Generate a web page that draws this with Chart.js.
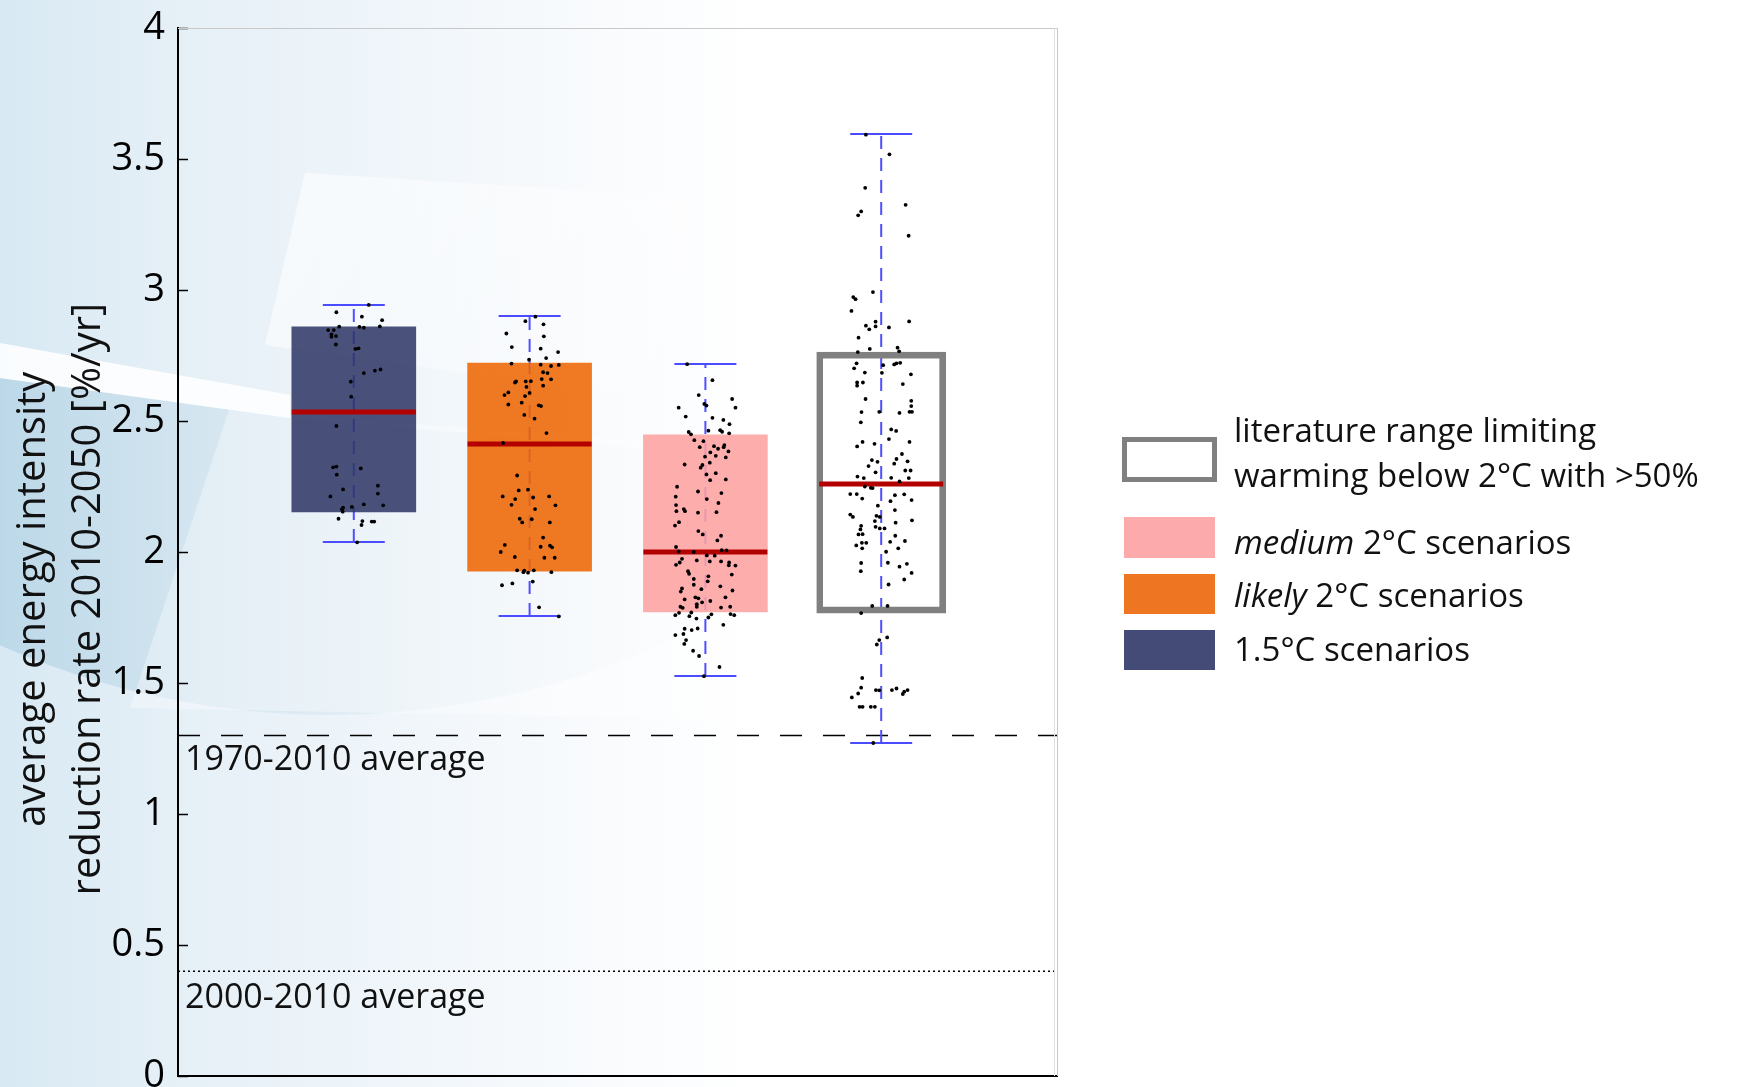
<!DOCTYPE html>
<html>
<head>
<meta charset="utf-8">
<script src="https://cdn.jsdelivr.net/npm/chart.js@4.4.1/dist/chart.umd.min.js"></script>
<style>
  body { margin: 0; background: #fff; }
  #wrap { position: relative; width: 1739px; height: 1087px; overflow: hidden; }
  canvas { position: absolute; left: 0; top: 0; }
  .sw { position: absolute; box-sizing: border-box; }
  .lt { position: absolute; left: 1234px; font: 33px "Open Sans", sans-serif; line-height: 40px; white-space: nowrap; color: #111; }
</style>
</head>
<body>
<div id="wrap">
  <canvas id="chart" width="1739" height="1087"></canvas>
  <div class="sw" style="left:1122px;top:437px;width:95px;height:45px;border:5px solid #808080;"></div>
  <div class="lt" style="top:410px;">literature range limiting</div>
  <div class="lt" style="top:455px;">warming below 2°C with &gt;50%</div>
  <div class="sw" style="left:1124px;top:517px;width:91px;height:41px;background:#fcaaab;"></div>
  <div class="lt" style="top:522px;"><i>medium</i> 2°C scenarios</div>
  <div class="sw" style="left:1124px;top:574px;width:91px;height:40px;background:#ee7521;"></div>
  <div class="lt" style="top:575px;"><i>likely</i> 2°C scenarios</div>
  <div class="sw" style="left:1124px;top:630px;width:91px;height:40px;background:#434b76;"></div>
  <div class="lt" style="top:629px;">1.5°C scenarios</div>
</div>
<script>
// categories (x positions 1..4)
const categories = ['1.5°C', 'likely 2°C', 'medium 2°C', 'literature >50%'];
const catX = [1, 2, 3, 4];

// box statistics
const whiskerLow  = [2.038, 1.756, 1.527, 1.271];
const boxLow      = [2.153, 1.927, 1.771, 1.767];
const medians     = [2.534, 2.412, 2.000, 2.260];
const boxHigh     = [2.859, 2.721, 2.447, 2.763];
const whiskerHigh = [2.943, 2.901, 2.718, 3.595];

// historic averages
const avg1970 = 1.3;
const avg2000 = 0.4;
const yTicks = [0, 0.5, 1, 1.5, 2, 2.5, 3, 3.5, 4];

// individual scenarios: [jitter offset, value]
const dots15 = [[0.085,2.943],[-0.099,2.915],[0.046,2.898],[0.161,2.885],[-0.146,2.847],[-0.114,2.847],[-0.083,2.860],[0.032,2.859],[0.057,2.856],[0.148,2.861],[-0.127,2.831],[-0.127,2.822],[-0.101,2.824],[-0.102,2.792],[0.009,2.775],[0.027,2.777],[0.057,2.683],[0.120,2.692],[0.152,2.697],[-0.017,2.650],[-0.015,2.593],[-0.099,2.481],[-0.118,2.323],[-0.099,2.326],[-0.097,2.295],[0.040,2.319],[-0.061,2.239],[-0.133,2.212],[0.137,2.253],[0.137,2.223],[0.167,2.178],[0.057,2.182],[-0.011,2.172],[-0.061,2.169],[-0.068,2.163],[-0.063,2.154],[-0.087,2.127],[0.049,2.118],[0.044,2.103],[0.102,2.116],[0.116,2.116],[0.019,2.037]];

const dotsLikely = [[0.033,2.898],[-0.024,2.881],[0.079,2.869],[-0.132,2.834],[0.081,2.823],[-0.101,2.782],[0.063,2.776],[0.162,2.763],[-0.003,2.734],[0.094,2.740],[-0.103,2.719],[0.063,2.715],[0.122,2.710],[0.166,2.714],[0.077,2.686],[0.102,2.683],[0.069,2.660],[0.122,2.659],[-0.083,2.647],[-0.077,2.651],[-0.022,2.651],[0.007,2.652],[-0.018,2.630],[0.077,2.635],[-0.121,2.609],[-0.143,2.599],[-0.026,2.595],[0.000,2.607],[-0.045,2.570],[-0.121,2.563],[0.052,2.560],[0.065,2.557],[-0.030,2.523],[0.028,2.509],[0.096,2.454],[-0.151,2.416],[-0.071,2.292],[-0.062,2.235],[-0.009,2.238],[-0.153,2.212],[-0.082,2.202],[0.020,2.208],[0.111,2.212],[-0.103,2.180],[0.031,2.164],[0.147,2.178],[-0.056,2.127],[-0.042,2.113],[0.012,2.125],[0.115,2.113],[0.077,2.055],[-0.141,2.027],[-0.164,2.000],[0.063,2.020],[0.116,2.024],[0.128,2.018],[-0.084,1.981],[0.084,1.978],[0.143,1.978],[-0.071,1.930],[-0.035,1.923],[-0.030,1.929],[-0.009,1.921],[0.024,1.930],[0.124,1.923],[-0.157,1.873],[-0.098,1.880],[0.018,1.887],[0.054,1.789],[0.166,1.754]];

const dotsMedium = [[-0.104,2.717],[0.040,2.656],[-0.038,2.599],[0.152,2.584],[-0.152,2.551],[-0.006,2.565],[0.006,2.559],[0.171,2.551],[-0.112,2.517],[0.040,2.512],[0.102,2.504],[0.137,2.488],[-0.095,2.458],[-0.082,2.449],[0.017,2.463],[0.084,2.465],[0.095,2.459],[0.135,2.453],[-0.063,2.427],[-0.011,2.423],[-0.032,2.400],[0.049,2.404],[0.072,2.394],[0.108,2.408],[0.104,2.400],[0.131,2.384],[-0.002,2.364],[0.028,2.380],[0.059,2.367],[0.116,2.361],[-0.118,2.334],[-0.017,2.332],[0.025,2.341],[-0.027,2.322],[0.006,2.296],[0.059,2.301],[0.027,2.274],[0.116,2.277],[-0.161,2.249],[-0.042,2.231],[0.091,2.225],[-0.169,2.211],[0.008,2.202],[0.074,2.187],[-0.167,2.179],[-0.123,2.164],[-0.165,2.156],[-0.116,2.156],[-0.042,2.150],[0.063,2.152],[-0.150,2.114],[-0.173,2.101],[-0.040,2.080],[-0.015,2.067],[0.089,2.062],[0.068,2.044],[-0.167,2.019],[-0.152,2.002],[-0.066,2.000],[0.093,2.007],[0.120,2.006],[0.008,1.987],[0.053,1.986],[-0.133,1.974],[-0.146,1.960],[-0.167,1.951],[-0.049,1.968],[0.025,1.964],[0.089,1.964],[0.135,1.960],[0.133,1.949],[0.171,1.948],[-0.099,1.927],[-0.093,1.917],[0.150,1.914],[0.017,1.907],[-0.066,1.897],[0.013,1.888],[-0.023,1.858],[0.085,1.869],[0.154,1.853],[-0.133,1.861],[-0.140,1.849],[-0.066,1.875],[-0.118,1.819],[-0.057,1.827],[-0.040,1.823],[0.114,1.827],[-0.142,1.791],[-0.129,1.787],[-0.049,1.801],[-0.049,1.791],[-0.019,1.808],[0.028,1.813],[0.089,1.788],[0.141,1.791],[-0.150,1.768],[-0.080,1.769],[-0.171,1.759],[-0.091,1.755],[0.034,1.762],[0.017,1.750],[0.143,1.763],[0.164,1.759],[-0.051,1.746],[0.102,1.722],[-0.118,1.707],[-0.125,1.687],[-0.078,1.702],[-0.044,1.708],[-0.171,1.683],[-0.110,1.664],[-0.120,1.649],[-0.070,1.623],[-0.036,1.603],[0.080,1.561],[-0.008,1.526]];

const dotsLit = [[-0.087,3.593],[0.047,3.518],[-0.091,3.390],[0.139,3.325],[-0.114,3.300],[-0.131,3.285],[0.156,3.207],[-0.047,2.992],[-0.159,2.973],[-0.146,2.965],[-0.169,2.920],[-0.032,2.879],[-0.032,2.861],[-0.087,2.864],[-0.068,2.850],[0.044,2.857],[0.159,2.880],[-0.129,2.818],[-0.065,2.775],[0.093,2.780],[0.102,2.766],[-0.133,2.763],
  [-0.140,2.720],[-0.154,2.701],[-0.093,2.685],[0.004,2.684],[0.011,2.713],[0.074,2.716],[0.087,2.720],[0.108,2.722],[0.169,2.678],[-0.137,2.647],[-0.137,2.635],[-0.104,2.647],[0.123,2.641],[-0.089,2.584],[0.171,2.577],[0.171,2.557],[0.161,2.535],[0.175,2.535],[-0.112,2.534],[-0.011,2.535],[0.104,2.531],[-0.116,2.495],[0.057,2.468],[0.085,2.462],[0.044,2.431],[-0.106,2.420],[-0.137,2.403],[-0.038,2.413],[0.161,2.420],[0.118,2.374],[-0.053,2.351],[-0.021,2.344],[0.087,2.355],[0.150,2.346],[-0.072,2.328],[0.074,2.337],[-0.032,2.304],[0.137,2.311],[0.167,2.311],[0.157,2.282],[-0.135,2.288],[-0.099,2.282],[0.057,2.283],[0.104,2.269],[-0.093,2.250],[-0.059,2.245],[-0.049,2.244],[-0.176,2.221],[-0.139,2.221],[-0.108,2.204],[0.078,2.217],[0.131,2.220],[0.173,2.198],[0.053,2.194],[-0.019,2.177],[0.078,2.160],[-0.176,2.143],[-0.161,2.134],[-0.027,2.138],[-0.008,2.134],[-0.036,2.118],[0.082,2.112],[0.175,2.121],[-0.032,2.096],[-0.008,2.090],[0.019,2.090],[-0.114,2.100],[-0.118,2.086],[-0.129,2.067],[-0.106,2.068],[0.080,2.062],[0.051,2.039],[0.135,2.042],[-0.142,2.025],[-0.110,2.035],[-0.085,2.035],[-0.108,2.014],[0.097,2.014],[0.028,2.001],[-0.114,1.958],[-0.116,1.927],[0.038,1.959],[0.104,1.944],[0.146,1.955],[0.173,1.920],[0.131,1.895],[0.042,1.876],[-0.051,1.794],[0.036,1.794],[-0.114,1.767],[0.034,1.674],[-0.011,1.664],[-0.025,1.647],[-0.108,1.519],[-0.114,1.482],[-0.131,1.460],[-0.167,1.445],[-0.030,1.473],[-0.011,1.472],[0.061,1.473],[0.087,1.479],[0.123,1.458],[0.131,1.467],[0.150,1.473],[-0.123,1.409],[-0.106,1.409],[-0.059,1.409],[-0.036,1.409],[-0.045,1.271]];

const dotGroups = [dots15, dotsLikely, dotsMedium, dotsLit];

const FONT = '"Open Sans", sans-serif';

function poly(ctx, pts) {
  ctx.beginPath();
  pts.forEach(([px, py], i) => i ? ctx.lineTo(px, py) : ctx.moveTo(px, py));
  ctx.closePath();
}

// soft blue backdrop like the report artwork
const backdrop = {
  id: 'backdrop',
  beforeDraw(chart) {
    const ctx = chart.ctx;
    ctx.save();
    ctx.fillStyle = '#ffffff';
    ctx.fillRect(0, 0, chart.width, chart.height);

    // general wash, fading to the right
    let g = ctx.createLinearGradient(0, 0, 760, 0);
    g.addColorStop(0, 'rgb(216,233,243)');
    g.addColorStop(0.25, 'rgb(230,240,247)');
    g.addColorStop(0.7, 'rgb(246,249,252)');
    g.addColorStop(1, 'rgb(255,255,255)');
    ctx.fillStyle = g;
    ctx.fillRect(0, 0, 1060, chart.height);

    // darker sweep under the big arc
    ctx.save();
    ctx.beginPath();
    ctx.arc(330, -100, 815, 0, Math.PI * 2);
    ctx.clip();
    poly(ctx, [[0, 378], [290, 418], [900, 470], [900, 800], [0, 800]]);
    ctx.clip();
    g = ctx.createLinearGradient(0, 0, 760, 0);
    g.addColorStop(0, 'rgba(170,205,225,0.6)');
    g.addColorStop(0.35, 'rgba(190,216,231,0.35)');
    g.addColorStop(1, 'rgba(215,230,240,0)');
    ctx.fillStyle = g;
    ctx.fillRect(0, 0, 1000, 800);
    ctx.restore();

    // lighter panel inside the sweep
    ctx.fillStyle = 'rgba(255,255,255,0.35)';
    poly(ctx, [[229, 410], [760, 450], [760, 720], [130, 708]]);
    ctx.fill();

    // white diagonal band on the left
    ctx.fillStyle = 'rgba(255,255,255,0.85)';
    poly(ctx, [[0, 343], [290, 395], [290, 418], [0, 378]]);
    ctx.fill();

    // pale panel top
    g = ctx.createLinearGradient(300, 180, 700, 400);
    g.addColorStop(0, 'rgba(255,255,255,0.6)');
    g.addColorStop(1, 'rgba(255,255,255,0.1)');
    ctx.fillStyle = g;
    poly(ctx, [[305, 173], [820, 205], [800, 420], [265, 345]]);
    ctx.fill();
    ctx.restore();
  }
};

// inward ticks, frame, axis title and average labels
const decor = {
  id: 'decor',
  afterDraw(chart) {
    const ctx = chart.ctx, a = chart.chartArea, y = chart.scales.y;
    ctx.save();
    ctx.strokeStyle = '#000';
    ctx.lineWidth = 1.5;
    yTicks.forEach(t => {
      const p = Math.round(y.getPixelForValue(t)) + 0.5;
      ctx.beginPath(); ctx.moveTo(a.left, p); ctx.lineTo(a.left + 10, p); ctx.stroke();
    });
    ctx.strokeStyle = '#c8c8c8';
    ctx.lineWidth = 1;
    ctx.beginPath();
    ctx.moveTo(a.left, a.top + 0.5); ctx.lineTo(a.right + 0.5, a.top + 0.5); ctx.lineTo(a.right + 0.5, a.bottom);
    ctx.stroke();
    ctx.strokeStyle = '#e2e2e2';
    ctx.beginPath(); ctx.moveTo(a.right - 2.5, a.top); ctx.lineTo(a.right - 2.5, a.bottom); ctx.stroke();

    ctx.fillStyle = '#111';
    ctx.font = '34px ' + FONT;
    ctx.textAlign = 'left';
    ctx.textBaseline = 'alphabetic';
    ctx.fillText('1970-2010 average', a.left + 7, y.getPixelForValue(avg1970) + 35);
    ctx.fillText('2000-2010 average', a.left + 7, y.getPixelForValue(avg2000) + 37);

    ctx.font = '40px ' + FONT;
    ctx.textAlign = 'center';
    const cy = a.top + (a.bottom - a.top) * 0.545;
    [['average energy intensity', 45], ['reduction rate 2010-2050 [%/yr]', 100]].forEach(([txt, bx]) => {
      ctx.save();
      ctx.translate(bx, cy);
      ctx.rotate(-Math.PI / 2);
      ctx.fillText(txt, 0, 0);
      ctx.restore();
    });
    ctx.restore();
  }
};

const datasets = [];

// reference lines
datasets.push({ type: 'line', data: [{x: 0, y: avg1970}, {x: 5, y: avg1970}], borderColor: '#000', borderWidth: 1.5, borderDash: [22, 21], pointRadius: 0, order: 6 });
datasets.push({ type: 'line', data: [{x: 0, y: avg2000}, {x: 5, y: avg2000}], borderColor: '#000', borderWidth: 1.5, borderDash: [2, 3], pointRadius: 0, order: 6 });

// dashed whisker stems
catX.forEach((cx, i) => {
  datasets.push({ type: 'line', data: [{x: cx, y: whiskerLow[i]}, {x: cx, y: whiskerHigh[i]}], borderColor: '#4f4fff', borderWidth: 2, borderDash: [13, 9], pointRadius: 0, order: 5 });
});

// filled boxes
datasets.push({
  type: 'bar',
  data: [0, 1, 2].map(i => ({x: catX[i], y: [boxLow[i], boxHigh[i]]})),
  backgroundColor: ['rgba(45,53,101,0.86)', 'rgba(238,103,4,0.88)', 'rgba(254,162,162,0.88)'],
  borderWidth: 0, barThickness: 124, grouped: false, order: 4
});
// outlined literature box
datasets.push({
  type: 'bar',
  data: [{x: catX[3], y: [boxLow[3], boxHigh[3]]}],
  backgroundColor: 'rgba(255,255,255,0)', borderColor: '#808080', borderWidth: 6, borderSkipped: false,
  barThickness: 129, grouped: false, order: 4
});

// whisker caps
datasets.push({
  type: 'scatter',
  data: catX.flatMap((cx, i) => [{x: cx, y: whiskerLow[i]}, {x: cx, y: whiskerHigh[i]}]),
  pointStyle: 'line', pointRadius: 31, pointBorderWidth: 2, borderColor: '#4b4bff', order: 3
});

// medians
datasets.push({
  type: 'scatter',
  data: catX.map((cx, i) => ({x: cx, y: medians[i]})),
  pointStyle: 'line', pointRadius: 62, pointBorderWidth: 5, borderColor: '#b30000', order: 2
});

// scenario dots
dotGroups.forEach((g, i) => {
  datasets.push({
    type: 'scatter',
    data: g.map(([o, v]) => ({x: catX[i] + o, y: v})),
    pointRadius: 1.9, pointBorderWidth: 0, backgroundColor: '#000', borderColor: '#000', order: 1
  });
});

new Chart(document.getElementById('chart'), {
  type: 'bar',
  data: { datasets },
  plugins: [backdrop, decor],
  options: {
    responsive: false,
    animation: false,
    events: [],
    layout: { autoPadding: false, padding: { left: 0, top: 28, right: 682, bottom: 11 } },
    plugins: { legend: { display: false }, tooltip: { enabled: false } },
    scales: {
      x: {
        type: 'linear', min: 0, max: 5, offset: false,
        grid: { display: false, drawTicks: false, offset: false },
        ticks: { display: false },
        border: { display: true, color: '#000', width: 2 },
        afterFit: s => { s.height = 0; s.paddingLeft = 0; s.paddingRight = 0; }
      },
      y: {
        type: 'linear', min: 0, max: 4,
        afterBuildTicks: s => { s.ticks = yTicks.map(v => ({value: v})); },
        grid: { display: false, drawTicks: false },
        border: { display: true, color: '#000', width: 2 },
        ticks: { color: '#000', padding: 13, font: { family: FONT, size: 38 }, callback: v => String(v) },
        afterFit: s => { s.width = 178; s.paddingTop = 0; s.paddingBottom = 0; }
      }
    }
  }
});
</script>
</body>
</html>
